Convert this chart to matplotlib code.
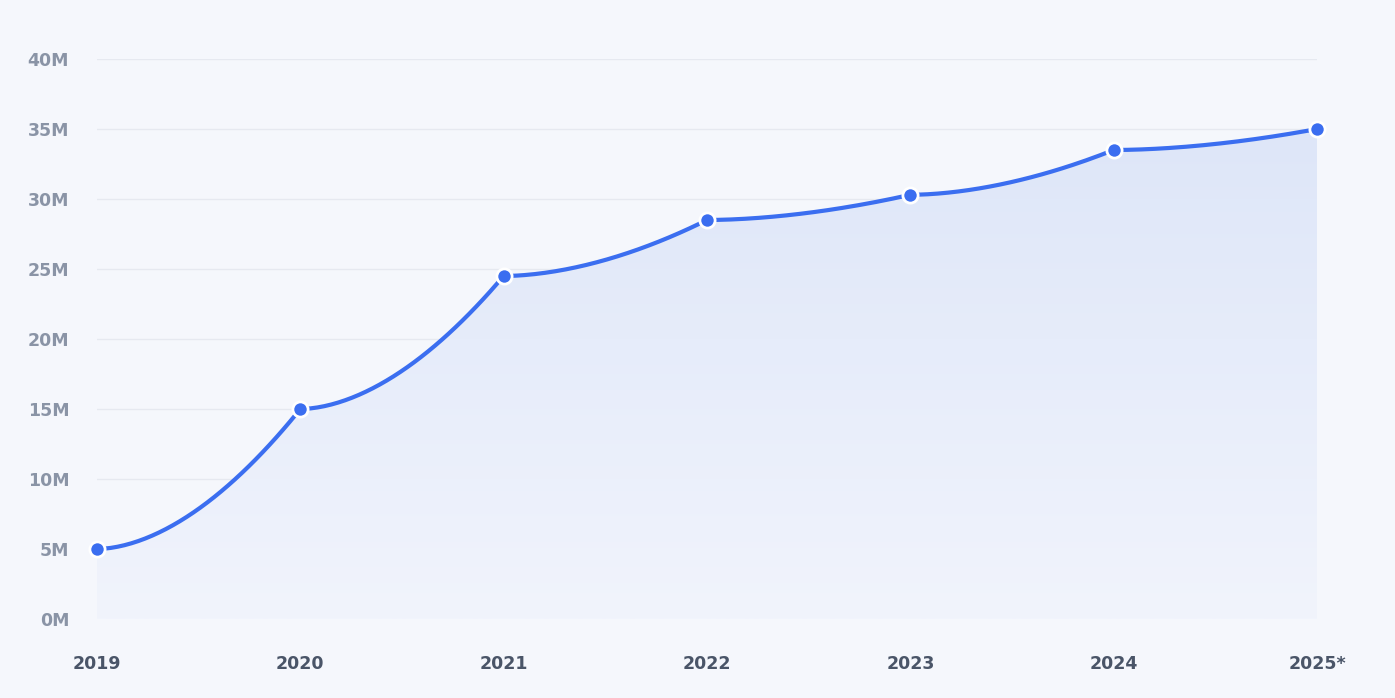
import matplotlib
matplotlib.use("Agg")
import matplotlib.pyplot as plt
import numpy as np
from matplotlib.patches import Polygon

years = ["2019", "2020", "2021", "2022", "2023", "2024", "2025*"]
values = [5.0, 15.0, 24.5, 28.5, 30.3, 33.5, 35.0]
yticks = [0, 5, 10, 15, 20, 25, 30, 35, 40]
ylabels = [f"{v}M" for v in yticks]

bg = "#f5f7fc"
line_c = "#3b6ef0"

fig = plt.figure(figsize=(13.95, 6.98), dpi=100, facecolor=bg)
ax = fig.add_axes([97/1395, 1-619/698, (1317-97)/1395, (619-59)/698])
ax.set_facecolor(bg)

x = np.arange(len(values))
xs, ys = [], []
for i in range(len(values)-1):
    t = np.linspace(0, 1, 60)
    xs.append(x[i] + t)
    ys.append(values[i] + (values[i+1]-values[i]) * t**1.8)
xs = np.concatenate(xs); ys = np.concatenate(ys)

ax.set_xlim(0, len(values)-1)
ax.set_ylim(0, 40)

for v in yticks[1:]:
    ax.axhline(v, color="#e6e9f0", lw=1, zorder=0)

# gradient fill
grad = np.linspace(0, 1, 256).reshape(-1, 1)
from matplotlib.colors import LinearSegmentedColormap
cmap = LinearSegmentedColormap.from_list("g", ["#f1f4fc", "#dbe4f8"])
im = ax.imshow(grad, extent=[0, len(values)-1, 0, 40], origin="lower", aspect="auto", cmap=cmap, zorder=1)
poly = Polygon(np.column_stack([np.r_[xs, xs[-1], xs[0]], np.r_[ys, 0, 0]]), closed=True, transform=ax.transData, facecolor="none", edgecolor="none")
ax.add_patch(poly)
im.set_clip_path(poly)

ax.plot(xs, ys, color=line_c, lw=3, zorder=3, solid_capstyle="round")
ax.scatter(x, values, s=120, color=line_c, edgecolor="white", linewidth=2, zorder=4, clip_on=False)

for s in ax.spines.values():
    s.set_visible(False)
ax.set_yticks(yticks)
ax.set_yticklabels(ylabels, fontsize=12.5, fontweight="bold", color="#8a94a6")
ax.set_xticks(x)
ax.set_xticklabels(years, fontsize=12.5, fontweight="bold", color="#4a5568")
ax.tick_params(length=0)
ax.tick_params(axis="y", pad=20)
ax.tick_params(axis="x", pad=26)

fig.savefig("out.png", dpi=100, facecolor=bg)
